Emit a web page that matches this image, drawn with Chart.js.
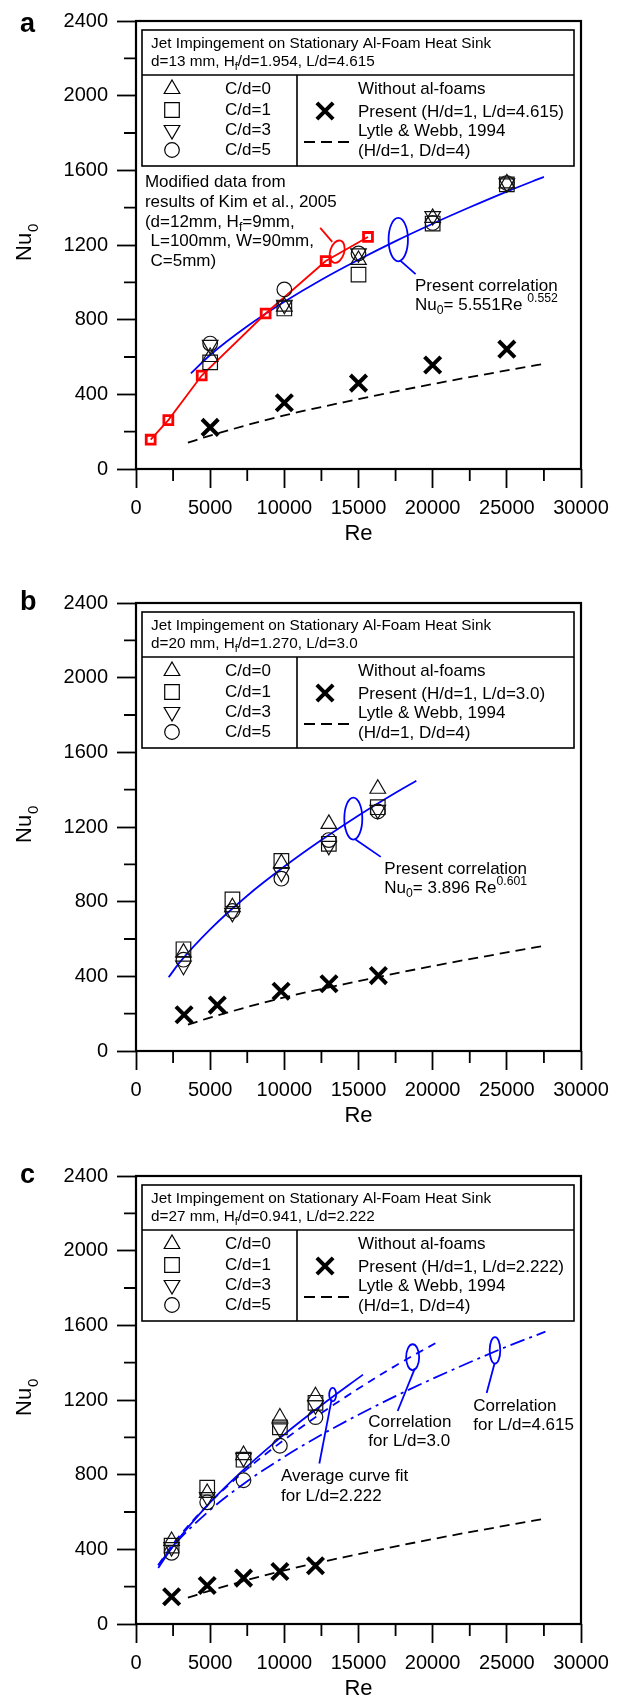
<!DOCTYPE html>
<html>
<head>
<meta charset="utf-8">
<script src="https://cdn.jsdelivr.net/npm/chart.js@4.4.1/dist/chart.umd.min.js"></script>
<style>
  html, body { margin: 0; padding: 0; background: #fff; overflow: hidden; }
  .panel { position: absolute; left: 0; width: 632px; height: 545px; }
</style>
</head>
<body>
<div class="panel" style="top:0"><canvas id="chartA" width="632" height="545"></canvas></div>
<div class="panel" style="top:582px"><canvas id="chartB" width="632" height="545"></canvas></div>
<div class="panel" style="top:1155px"><canvas id="chartC" width="632" height="545"></canvas></div>
<script>
const FONT = '"Liberation Sans", Arial, Helvetica, sans-serif';

// axis ticks
const reTickValues = [0, 5000, 10000, 15000, 20000, 25000, 30000];
const reTickLabels = ['0', '5000', '10000', '15000', '20000', '25000', '30000'];
const nuTickValues = [0, 400, 800, 1200, 1600, 2000, 2400];
const nuTickLabels = ['0', '400', '800', '1200', '1600', '2000', '2400'];
const cdLabels = ['C/d=0', 'C/d=1', 'C/d=3', 'C/d=5'];

// panel a : d=13 mm, L/d=4.615
const reA = [5000, 10000, 15000, 20000, 25000];
const nuA_cd0 = [600, 870, 1120, 1345, 1530];
const nuA_cd1 = [571, 860, 1041, 1315, 1525];
const nuA_cd3 = [665, 880, 1155, 1355, 1530];
const nuA_cd5 = [672, 962, 1155, 1318, 1532];
const nuA_bare = [223, 355, 460, 557, 642];
const reKim = [990, 2180, 4430, 8740, 12790, 15640];
const nuKim = [157, 262, 501, 833, 1114, 1243];
const reFitA = [3700, 5000, 7500, 10000, 12500, 15000, 17500, 20000, 22500, 25000, 27500];
const nuFitA = [512, 611, 765, 896, 1014, 1121, 1221, 1314, 1402, 1486, 1565];

// panel b : d=20 mm, L/d=3.0
const reB = [3200, 6500, 9800, 13000, 16300];
const nuB_cd0 = [527, 770, 1006, 1217, 1405];
const nuB_cd1 = [545, 812, 1018, 1110, 1306];
const nuB_cd3 = [457, 740, 955, 1099, 1292];
const nuB_cd5 = [489, 750, 923, 1130, 1283];
const reB_bare = [3240, 5480, 9780, 13010, 16340];
const nuB_bare = [194, 246, 320, 360, 404];
const reFitB = [2200, 3000, 5000, 7500, 10000, 12500, 15000, 17500, 18900];
const nuFitB = [395, 480, 652, 832, 988, 1130, 1262, 1384, 1448];

// panel c : d=27 mm, L/d=2.222
const reC = [2400, 4800, 7250, 9700, 12100];
const nuC_cd0 = [445, 702, 905, 1106, 1220];
const nuC_cd1 = [420, 730, 880, 1053, 1185];
const nuC_cd3 = [412, 680, 890, 1048, 1172];
const nuC_cd5 = [381, 652, 770, 955, 1108];
const nuC_bare = [146, 206, 246, 281, 312];
const reFitC = [1500, 2500, 5000, 7500, 10000, 12500, 15300];
const nuFitC = [300, 417, 651, 844, 1016, 1172, 1336];
const reCorr30 = [1500, 2500, 5000, 7500, 10000, 12500, 15000, 17500, 20500];
const nuCorr30 = [316, 429, 651, 831, 987, 1130, 1261, 1384, 1518];
const reCorr46 = [1500, 2500, 5000, 7500, 10000, 12500, 15000, 17500, 20000, 22500, 25000, 27600];
const nuCorr46 = [314, 417, 611, 765, 896, 1014, 1121, 1221, 1314, 1402, 1486, 1566];

// Lytle & Webb, 1994 (same in all panels)
const reLytle = [3500, 5000, 10000, 15000, 20000, 25000, 27700];
const nuLytle = [141, 179, 287, 374, 455, 528, 566];

const pts = (xs, ys) => xs.map((x, i) => ({ x: x, y: ys[i] }));

// marker styles for C/d series
const markerStyles = [
  { pointStyle: 'triangle', radius: 9, rotation: 0 },
  { pointStyle: 'rect', radius: 10.3, rotation: 0 },
  { pointStyle: 'triangle', radius: 9, rotation: 180 },
  { pointStyle: 'circle', radius: 7.3, rotation: 0 }
];
const crossStyle = { pointStyle: 'crossRot', radius: 11.5, rotation: 0, borderWidth: 4 };

function symbolSets(re, series) {
  return series.map((vals, i) => ({
    data: pts(re, vals),
    showLine: false,
    pointStyle: markerStyles[i].pointStyle,
    pointRadius: markerStyles[i].radius,
    pointRotation: markerStyles[i].rotation,
    pointBorderColor: '#111',
    pointBackgroundColor: 'rgba(0,0,0,0)',
    pointBorderWidth: 1.2
  }));
}
function crossSet(re, vals) {
  return {
    data: pts(re, vals), showLine: false,
    pointStyle: 'crossRot', pointRadius: crossStyle.radius,
    pointBorderColor: '#000', pointBorderWidth: crossStyle.borderWidth
  };
}
function lineSet(re, vals, color, dash) {
  return {
    data: pts(re, vals), showLine: true, pointRadius: 0,
    borderColor: color, borderWidth: 1.8, borderDash: dash || [],
    cubicInterpolationMode: 'monotone', fill: false
  };
}

// rich text: parts are strings or [text, 'sub'|'sup']
function rich(ctx, parts, x, y, size) {
  let cx = x;
  ctx.textAlign = 'left';
  ctx.textBaseline = 'middle';
  parts.forEach(p => {
    const t = Array.isArray(p) ? p[0] : p;
    const mode = Array.isArray(p) ? p[1] : '';
    const s = mode ? size * 0.72 : size;
    const dy = mode === 'sub' ? size * 0.3 : mode === 'sup' ? -size * 0.4 : 0;
    ctx.font = s + 'px ' + FONT;
    ctx.fillText(t, cx, y + dy);
    cx += ctx.measureText(t).width;
  });
}

function marker(ctx, st, x, y, lw) {
  ctx.fillStyle = 'rgba(0,0,0,0)';
  ctx.strokeStyle = '#000';
  ctx.lineWidth = lw;
  Chart.helpers.drawPoint(ctx, { pointStyle: st.pointStyle, radius: st.radius, rotation: st.rotation, borderWidth: lw }, x, y);
}

// per panel decorations (legend box, notes, ellipses)
const decor = {
  chartA: {
    letter: 'a', letterY: 11,
    subtitle: ['d=13 mm, H', ['f', 'sub'], '/d=1.954, L/d=4.615'],
    present: 'Present (H/d=1, L/d=4.615)',
    notes: [
      { re: 600, nu: 1535, parts: ['Modified data from'] },
      { re: 600, nu: 1429, parts: ['results of Kim et al., 2005'] },
      { re: 600, nu: 1322, parts: ['(d=12mm, H', ['f', 'sub'], '=9mm,'] },
      { re: 980, nu: 1218, parts: ['L=100mm, W=90mm,'] },
      { re: 980, nu: 1113, parts: ['C=5mm)'] },
      { re: 18810, nu: 981, parts: ['Present correlation'] },
      { re: 18810, nu: 876, parts: ['Nu', ['0', 'sub'], '= 5.551Re ', ['0.552', 'sup']] }
    ],
    ellipses: [
      { re: 13560, nu: 1164, rx: 7, ry: 11.5, rot: 0.3, color: '#f00' },
      { re: 17680, nu: 1229, rx: 9.7, ry: 21.7, rot: 0, color: '#00f' }
    ],
    leaders: [
      { re1: 12420, nu1: 1292, re2: 13230, nu2: 1217, color: '#f00' },
      { re1: 17800, nu1: 1118, re2: 18850, nu2: 1044, color: '#00f' }
    ]
  },
  chartB: {
    letter: 'b', letterY: 7,
    subtitle: ['d=20 mm, H', ['f', 'sub'], '/d=1.270, L/d=3.0'],
    present: 'Present (H/d=1, L/d=3.0)',
    notes: [
      { re: 16740, nu: 976, parts: ['Present correlation'] },
      { re: 16740, nu: 870, parts: ['Nu', ['0', 'sub'], '= 3.896 Re', ['0.601', 'sup']] }
    ],
    ellipses: [
      { re: 14650, nu: 1245, rx: 9, ry: 21, rot: 0, color: '#00f' }
    ],
    leaders: [
      { re1: 14750, nu1: 1136, re2: 16500, nu2: 1040, color: '#00f' }
    ]
  },
  chartC: {
    letter: 'c', letterY: 7,
    subtitle: ['d=27 mm, H', ['f', 'sub'], '/d=0.941, L/d=2.222'],
    present: 'Present (H/d=1, L/d=2.222)',
    notes: [
      { re: 9775, nu: 790, parts: ['Average curve fit'] },
      { re: 9775, nu: 684, parts: ['for L/d=2.222'] },
      { re: 15663, nu: 1080, parts: ['Correlation'] },
      { re: 15663, nu: 979, parts: ['for L/d=3.0'] },
      { re: 22740, nu: 1167, parts: ['Correlation'] },
      { re: 22740, nu: 1062, parts: ['for L/d=4.615'] }
    ],
    ellipses: [
      { re: 13260, nu: 1229, rx: 3.5, ry: 6.7, rot: 0, color: '#00f' },
      { re: 18650, nu: 1429, rx: 6.5, ry: 13, rot: 0, color: '#00f' },
      { re: 24200, nu: 1466, rx: 5.3, ry: 13.3, rot: 0, color: '#00f' }
    ],
    leaders: [
      { re1: 13190, nu1: 1203, re2: 12360, nu2: 860, color: '#00f' },
      { re1: 18800, nu1: 1369, re2: 17640, nu2: 1141, color: '#00f' },
      { re1: 24170, nu1: 1396, re2: 23640, nu2: 1238, color: '#00f' }
    ]
  }
};

const panelDecor = {
  id: 'panelDecor',
  afterDraw(chart) {
    const d = decor[chart.canvas.id];
    const ctx = chart.ctx, a = chart.chartArea;
    const X = v => chart.scales.x.getPixelForValue(v);
    const Y = v => chart.scales.y.getPixelForValue(v);
    ctx.save();

    // minor ticks
    ctx.strokeStyle = '#000';
    ctx.lineWidth = 1.8;
    ctx.beginPath();
    for (let v = 200; v < 2400; v += 400) { ctx.moveTo(a.left - 12, Y(v)); ctx.lineTo(a.left, Y(v)); }
    for (let v = 2500; v < 30000; v += 5000) { ctx.moveTo(X(v), a.bottom); ctx.lineTo(X(v), a.bottom + 12); }
    ctx.stroke();

    // frame
    ctx.lineWidth = 2.2;
    ctx.strokeRect(a.left, a.top, a.right - a.left, a.bottom - a.top);

    // panel letter
    ctx.fillStyle = '#000';
    ctx.font = 'bold 27px ' + FONT;
    ctx.textAlign = 'left';
    ctx.textBaseline = 'alphabetic';
    ctx.fillText(d.letter, 20, a.top + d.letterY);

    // y title Nu0
    ctx.save();
    ctx.translate(25, (a.top + a.bottom) / 2 + 16);
    ctx.rotate(-Math.PI / 2);
    ctx.textBaseline = 'middle';
    ctx.textAlign = 'left';
    ctx.font = '22px ' + FONT;
    ctx.fillText('Nu', 0, 0);
    const w = ctx.measureText('Nu').width;
    ctx.font = '15px ' + FONT;
    ctx.fillText('0', w + 1, 9);
    ctx.restore();

    // legend box
    const L = a.left + 6, R = a.right - 7, T = a.top + 9, B = a.top + 145;
    const M = a.top + 54, D = a.left + 161;
    ctx.fillStyle = '#fff';
    ctx.fillRect(L, T, R - L, B - T);
    ctx.strokeStyle = '#000';
    ctx.lineWidth = 1.6;
    ctx.strokeRect(L, T, R - L, B - T);
    ctx.beginPath();
    ctx.moveTo(L, M); ctx.lineTo(R, M);
    ctx.moveTo(D, M); ctx.lineTo(D, B);
    ctx.stroke();
    ctx.fillStyle = '#000';
    rich(ctx, ['Jet Impingement on Stationary Al-Foam Heat Sink'], L + 9, T + 14, 15.3);
    rich(ctx, d.subtitle, L + 9, T + 32, 15.3);
    const rows = [T + 59, T + 80, T + 100, T + 120];
    markerStyles.forEach((st, i) => {
      marker(ctx, st, L + 30, rows[i], 1.2);
      ctx.fillStyle = '#000';
      rich(ctx, [cdLabels[i]], L + 83, rows[i], 17);
    });
    marker(ctx, crossStyle, D + 28, T + 81, 4);
    ctx.fillStyle = '#000';
    rich(ctx, ['Without al-foams'], D + 61, T + 59, 17);
    rich(ctx, [d.present], D + 61, T + 82, 17);
    rich(ctx, ['Lytle & Webb, 1994'], D + 61, T + 101, 17);
    rich(ctx, ['(H/d=1, D/d=4)'], D + 61, T + 121, 17);
    ctx.strokeStyle = '#000';
    ctx.lineWidth = 1.8;
    ctx.setLineDash([11, 6]);
    ctx.beginPath();
    ctx.moveTo(D + 7, T + 112); ctx.lineTo(D + 52, T + 112);
    ctx.stroke();
    ctx.setLineDash([]);

    // ellipses and leader lines
    d.ellipses.forEach(e => {
      ctx.strokeStyle = e.color;
      ctx.lineWidth = 1.8;
      ctx.beginPath();
      ctx.ellipse(X(e.re), Y(e.nu), e.rx, e.ry, e.rot, 0, Math.PI * 2);
      ctx.stroke();
    });
    d.leaders.forEach(l => {
      ctx.strokeStyle = l.color;
      ctx.lineWidth = 1.8;
      ctx.beginPath();
      ctx.moveTo(X(l.re1), Y(l.nu1));
      ctx.lineTo(X(l.re2), Y(l.nu2));
      ctx.stroke();
    });

    // notes
    ctx.fillStyle = '#000';
    d.notes.forEach(n => rich(ctx, n.parts, X(n.re), Y(n.nu), 17));
    ctx.restore();
  }
};

function makeChart(id, datasets) {
  return new Chart(document.getElementById(id), {
    type: 'scatter',
    data: { datasets: datasets },
    options: {
      responsive: false,
      animation: false,
      events: [],
      layout: { padding: { left: 0, right: 51, top: 14, bottom: 0 } },
      plugins: { legend: { display: false }, tooltip: { enabled: false } },
      scales: {
        x: {
          type: 'linear', min: 0, max: 30000,
          afterBuildTicks: s => { s.ticks = reTickValues.map(v => ({ value: v })); },
          ticks: {
            color: '#000', font: { family: FONT, size: 20 }, padding: 8,
            maxRotation: 0, autoSkip: false,
            callback: v => reTickLabels[reTickValues.indexOf(v)]
          },
          grid: { drawOnChartArea: false, tickLength: 19, tickWidth: 1.8, tickColor: '#000' },
          border: { display: false },
          title: { display: true, text: 'Re', color: '#000', font: { family: FONT, size: 22, lineHeight: 1 }, padding: 0 },
          afterFit: s => { s.height = 76; }
        },
        y: {
          type: 'linear', min: 0, max: 2400,
          afterBuildTicks: s => { s.ticks = nuTickValues.map(v => ({ value: v })); },
          ticks: {
            color: '#000', font: { family: FONT, size: 20 }, padding: 9,
            callback: v => nuTickLabels[nuTickValues.indexOf(v)]
          },
          grid: { drawOnChartArea: false, tickLength: 19, tickWidth: 1.8, tickColor: '#000' },
          border: { display: false },
          afterFit: s => { s.width = 136; }
        }
      }
    },
    plugins: [panelDecor]
  });
}

// panel a
makeChart('chartA', [].concat(
  symbolSets(reA, [nuA_cd0, nuA_cd1, nuA_cd3, nuA_cd5]),
  [crossSet(reA, nuA_bare)],
  [{
    data: pts(reKim, nuKim), showLine: true, borderColor: '#f00', borderWidth: 1.8,
    pointStyle: 'rect', pointRadius: 6.3, pointBorderWidth: 2.8,
    pointBorderColor: '#f00', pointBackgroundColor: 'rgba(0,0,0,0)', tension: 0
  }],
  [lineSet(reFitA, nuFitA, '#00f'), lineSet(reLytle, nuLytle, '#000', [10, 6])]
));

// panel b
makeChart('chartB', [].concat(
  symbolSets(reB, [nuB_cd0, nuB_cd1, nuB_cd3, nuB_cd5]),
  [crossSet(reB_bare, nuB_bare)],
  [lineSet(reFitB, nuFitB, '#00f'), lineSet(reLytle, nuLytle, '#000', [10, 6])]
));

// panel c
makeChart('chartC', [].concat(
  symbolSets(reC, [nuC_cd0, nuC_cd1, nuC_cd3, nuC_cd5]),
  [crossSet(reC, nuC_bare)],
  [
    lineSet(reFitC, nuFitC, '#00f'),
    lineSet(reCorr30, nuCorr30, '#00f', [8, 6]),
    lineSet(reCorr46, nuCorr46, '#00f', [15, 5, 3, 5]),
    lineSet(reLytle, nuLytle, '#000', [10, 6])
  ]
));
</script>
</body>
</html>
